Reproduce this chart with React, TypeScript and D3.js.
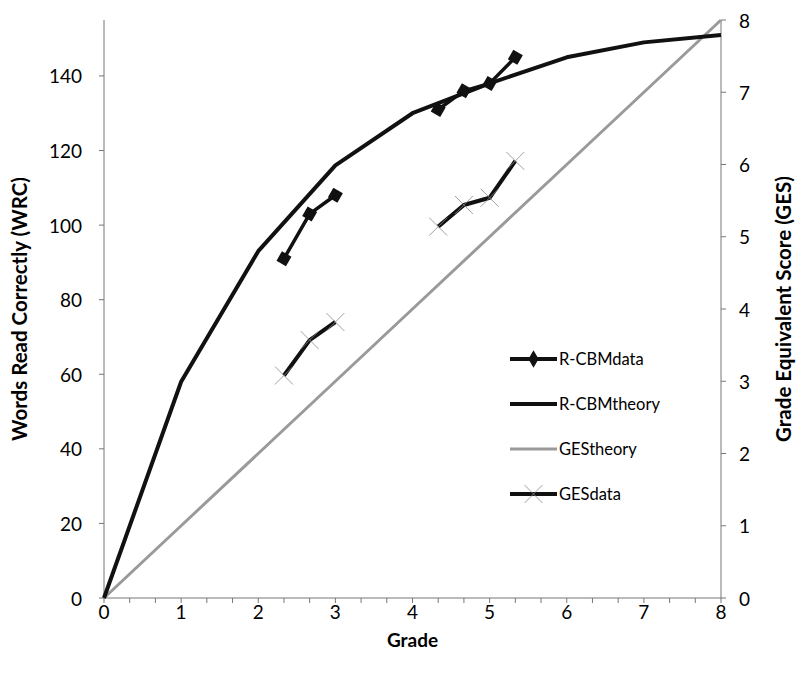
import * as d3 from 'd3';
import { useMemo } from 'react';

// grade positions (thirds of a year) for the measured points
const dataGrades = [7 / 3, 8 / 3, 3, null, 13 / 3, 14 / 3, 5, 16 / 3];
const rcbmData = [91, 103, 108, null, 131, 136, 138, 145];
const gesData = [3.08, 3.57, 3.82, null, 5.14, 5.44, 5.54, 6.05];

const theoryGrades = [0, 1, 2, 3, 4, 5, 6, 7, 8];
const rcbmTheory = [0, 58, 93, 116, 130, 138, 145, 149, 151];
const gesTheory = [0, 1, 2, 3, 4, 5, 6, 7, 8];

const leftTicks = [0, 20, 40, 60, 80, 100, 120, 140];
const rightTicks = [0, 1, 2, 3, 4, 5, 6, 7, 8];
const xLabels = [0, 1, 2, 3, 4, 5, 6, 7, 8];

const legendItems = ['R-CBMdata', 'R-CBMtheory', 'GEStheory', 'GESdata'];

const width = 798;
const height = 678;
const FONT = 'Lato, "Open Sans", sans-serif';

export default function App() {
  const x = useMemo(() => d3.scaleLinear().domain([0, 8]).range([104, 721]), []);
  const yL = useMemo(() => d3.scaleLinear().domain([0, 155]).range([598, 20]), []);
  const yR = useMemo(() => d3.scaleLinear().domain([0, 8]).range([598, 20]), []);

  const minorTicks = d3.range(0, 25).map((i) => i / 3);

  const pts = (ys: (number | null)[]) =>
    dataGrades.map((g, i) => ({ g, v: ys[i] }));

  const lineL = d3
    .line<{ g: number | null; v: number | null }>()
    .defined((d) => d.g != null && d.v != null)
    .x((d) => x(d.g as number))
    .y((d) => yL(d.v as number));
  const lineR = d3
    .line<{ g: number | null; v: number | null }>()
    .defined((d) => d.g != null && d.v != null)
    .x((d) => x(d.g as number))
    .y((d) => yR(d.v as number));

  const theoryL = theoryGrades.map((g, i) => ({ g, v: rcbmTheory[i] }));
  const theoryR = theoryGrades.map((g, i) => ({ g, v: gesTheory[i] }));

  const diamond = d3.symbol(d3.symbolSquare, 120)();
  const x0 = x.range()[0];
  const x1 = x.range()[1];
  const yb = yL.range()[0];
  const yt = yL.range()[1];

  const legendY = [359, 404, 449, 494];

  const cross = (cx: number, cy: number, k: string) => (
    <g key={k} stroke="#888" strokeWidth={0.8}>
      <line x1={cx - 9} y1={cy - 9} x2={cx + 9} y2={cy + 9} />
      <line x1={cx - 9} y1={cy + 9} x2={cx + 9} y2={cy - 9} />
    </g>
  );

  return (
    <svg
      width={width}
      height={height}
      style={{ position: 'absolute', left: 0, top: 0, background: '#fff' }}
      fontFamily={FONT}
    >
      {/* axes */}
      <line x1={x0} x2={x0} y1={yt} y2={yb} stroke="#777" strokeWidth={1} />
      <line x1={x1} x2={x1} y1={yt} y2={yb} stroke="#777" strokeWidth={1} />
      <line x1={x0} x2={x1} y1={yb} y2={yb} stroke="#777" strokeWidth={1} />

      {minorTicks.map((t) => (
        <line key={'mt' + t} x1={x(t)} x2={x(t)} y1={yb} y2={yb + 5} stroke="#777" />
      ))}
      {xLabels.map((t) => (
        <text key={'xl' + t} x={x(t)} y={yb + 13} textAnchor="middle" dominantBaseline="central" fontSize={19}>
          {t}
        </text>
      ))}

      {leftTicks.map((t) => (
        <g key={'lt' + t}>
          <line x1={x0 - 5} x2={x0} y1={yL(t)} y2={yL(t)} stroke="#777" />
          <text x={x0 - 22} y={yL(t)} textAnchor="end" dominantBaseline="central" fontSize={19}>
            {t}
          </text>
        </g>
      ))}
      {rightTicks.map((t) => (
        <g key={'rt' + t}>
          <line x1={x1} x2={x1 + 5} y1={yR(t)} y2={yR(t)} stroke="#777" />
          <text x={x1 + 18} y={yR(t)} textAnchor="start" dominantBaseline="central" fontSize={19}>
            {t}
          </text>
        </g>
      ))}

      {/* axis titles */}
      <text x={(x0 + x1) / 2} y={639} textAnchor="middle" dominantBaseline="central" fontSize={19} fontWeight="bold">
        Grade
      </text>
      <text
        transform={`translate(19,${(yt + yb) / 2}) rotate(-90)`}
        textAnchor="middle"
        dominantBaseline="central"
        fontSize={20.5}
        fontWeight="bold"
      >
        Words Read Correctly (WRC)
      </text>
      <text
        transform={`translate(783,${(yt + yb) / 2}) rotate(-90)`}
        textAnchor="middle"
        dominantBaseline="central"
        fontSize={20.5}
        fontWeight="bold"
      >
        Grade Equivalent Score (GES)
      </text>

      {/* theory lines */}
      <path d={lineR(theoryR) || ''} fill="none" stroke="#9a9a9a" strokeWidth={3} />
      <path d={lineL(theoryL) || ''} fill="none" stroke="#111" strokeWidth={4} strokeLinejoin="round" />

      {/* data lines */}
      <path d={lineR(pts(gesData)) || ''} fill="none" stroke="#111" strokeWidth={4} strokeLinejoin="round" />
      {pts(gesData)
        .filter((d) => d.g != null && d.v != null)
        .map((d, i) => cross(x(d.g as number), yR(d.v as number), 'gx' + i))}

      <path d={lineL(pts(rcbmData)) || ''} fill="none" stroke="#111" strokeWidth={3.5} strokeLinejoin="round" />
      {pts(rcbmData)
        .filter((d) => d.g != null && d.v != null)
        .map((d, i) => (
          <path
            key={'rd' + i}
            d={diamond || ''}
            transform={`translate(${x(d.g as number)},${yL(d.v as number)}) rotate(30)`}
            fill="#111"
          />
        ))}

      {/* legend */}
      {legendItems.map((name, i) => {
        const ly = legendY[i];
        const lx0 = 510;
        const lx1 = 557;
        return (
          <g key={name}>
            {name === 'GEStheory' ? (
              <line x1={lx0} x2={lx1} y1={ly} y2={ly} stroke="#9a9a9a" strokeWidth={3} />
            ) : (
              <line x1={lx0} x2={lx1} y1={ly} y2={ly} stroke="#111" strokeWidth={4} />
            )}
            {name === 'R-CBMdata' && (
              <path d={d3.symbol(d3.symbolDiamond, 90)() || ''} transform={`translate(${(lx0 + lx1) / 2},${ly})`} fill="#111" />
            )}
            {name === 'GESdata' && cross((lx0 + lx1) / 2, ly, 'lg')}
            <text x={lx1 + 2} y={ly} dominantBaseline="central" fontSize={16.5}>
              {name}
            </text>
          </g>
        );
      })}
    </svg>
  );
}
